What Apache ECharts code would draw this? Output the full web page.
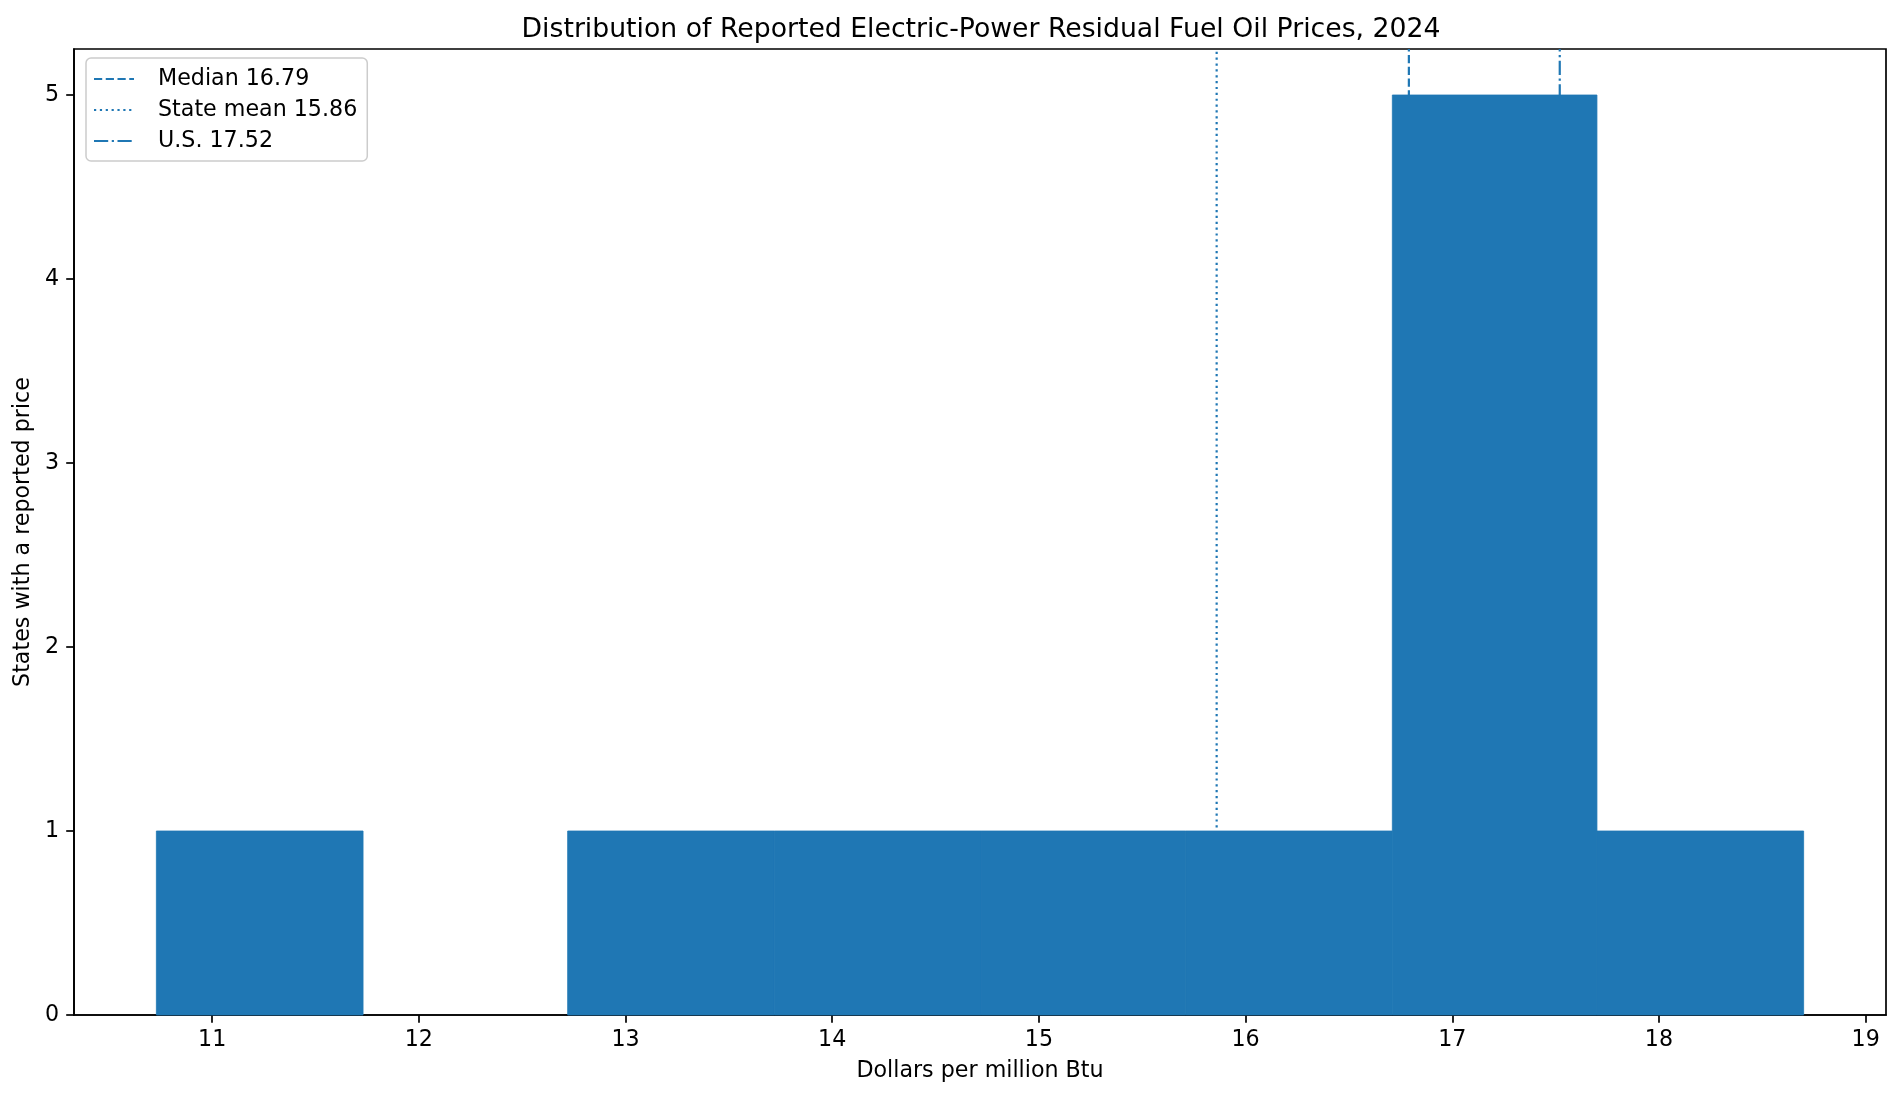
<!DOCTYPE html>
<html>
<head>
<meta charset="utf-8">
<title>Residual Fuel Oil Prices 2024</title>
<script src="https://cdn.jsdelivr.net/npm/echarts@6/dist/echarts.min.js"></script>
<style>
    html, body {margin: 0; padding: 0; background: #fff;}
    #chart {width: 1901px; height: 1096px;}
</style>
</head>
<body>
<div id="chart"></div>
<script>
// histogram bins (dollars per million Btu) and state counts
let binStart = [10.73, 11.73, 12.72, 13.72, 14.72, 15.71, 16.71, 17.70]
let binEnd = [11.73, 12.72, 13.72, 14.72, 15.71, 16.71, 17.70, 18.70]
let binCount = [1, 0, 1, 1, 1, 1, 5, 1]
let xTicks = [11, 12, 13, 14, 15, 16, 17, 18, 19]
let yTicks = [0, 1, 2, 3, 4, 5]
let refNames = ['Median 16.79', 'State mean 15.86', 'U.S. 17.52']
let refValues = [16.79, 15.86, 17.52]
let refDash = [[8.2, 3.55], [2.2, 3.66], [14.2, 3.55, 2.2, 3.55]]

let font = 'DejaVu Sans', blue = '#1f77b4'
let xMin = 10.3315, xMax = 19.0985, yMax = 5.25

let histData = []
for (let i = 0; i < binCount.length; i++) {
    histData.push([binStart[i], binEnd[i], binCount[i]])
}

let series = [{
    name: 'hist',
    type: 'custom',
    z: 3,
    data: histData,
    encode: {x: [0, 1], y: 2},
    renderItem: function (params, api) {
        if (api.value(2) === 0) return null
        let p0 = api.coord([api.value(0), api.value(2)])
        let p1 = api.coord([api.value(1), 0])
        return {
            type: 'rect',
            shape: {x: p0[0], y: p0[1], width: p1[0] - p0[0], height: p1[1] - p0[1]},
            style: {fill: blue, stroke: blue, lineWidth: 0.8}
        }
    }
}]
for (let i = 0; i < refValues.length; i++) {
    series.push({
        name: refNames[i],
        type: 'line',
        z: 1,
        symbol: 'none',
        silent: true,
        color: blue,
        data: [[refValues[i], 0], [refValues[i], yMax]],
        lineStyle: {color: blue, width: 2.2, type: refDash[i], cap: 'butt'}
    })
}

let chartA = echarts.init(document.getElementById('chart'), null, {renderer: 'canvas'})
let option = {
    animation: false,
    backgroundColor: '#fff',
    textStyle: {fontFamily: font, color: '#000'},
    title: {
        text: 'Distribution of Reported Electric-Power Residual Fuel Oil Prices, 2024',
        left: 976,
        textAlign: 'center',
        top: 12,
        textStyle: {fontFamily: font, fontSize: 26.7, fontWeight: 'normal', color: '#000'}
    },
    legend: {
        orient: 'vertical',
        left: 86,
        top: 58,
        data: refNames,
        itemWidth: 40,
        itemHeight: 22,
        itemGap: 9,
        padding: [10, 10, 9, 7],
        backgroundColor: 'rgba(255,255,255,0.8)',
        borderColor: '#cccccc',
        borderWidth: 1.5,
        borderRadius: 5,
        itemStyle: {opacity: 0},
        textStyle: {fontFamily: font, fontSize: 22.2, color: '#000', padding: [0, 0, 0, 19]}
    },
    grid: {
        left: 74,
        right: 15,
        top: 49,
        bottom: 81,
        show: true,
        borderColor: '#000',
        borderWidth: 1.7,
        backgroundColor: 'transparent'
    },
    xAxis: {
        type: 'value',
        min: xMin,
        max: xMax,
        name: 'Dollars per million Btu',
        nameLocation: 'middle',
        nameGap: 45,
        nameTextStyle: {fontFamily: font, fontSize: 22.2, color: '#000'},
        axisLine: {show: true, lineStyle: {color: '#000', width: 1.7}},
        axisTick: {show: true, length: 7.8, customValues: xTicks, lineStyle: {color: '#000', width: 1.7}},
        axisLabel: {customValues: xTicks, margin: 14, fontFamily: font, fontSize: 22.2, color: '#000'},
        splitLine: {show: false}
    },
    yAxis: {
        type: 'value',
        min: 0,
        max: yMax,
        name: 'States with a reported price',
        nameLocation: 'middle',
        nameRotate: 90,
        nameGap: 39,
        nameTextStyle: {fontFamily: font, fontSize: 22.2, color: '#000'},
        axisLine: {show: true, lineStyle: {color: '#000', width: 1.7}},
        axisTick: {show: true, length: 7.8, customValues: yTicks, lineStyle: {color: '#000', width: 1.7}},
        axisLabel: {customValues: yTicks, margin: 15, fontFamily: font, fontSize: 22.2, color: '#000'},
        splitLine: {show: false}
    },
    series: series
}
chartA.setOption(option)
</script>
</body>
</html>
